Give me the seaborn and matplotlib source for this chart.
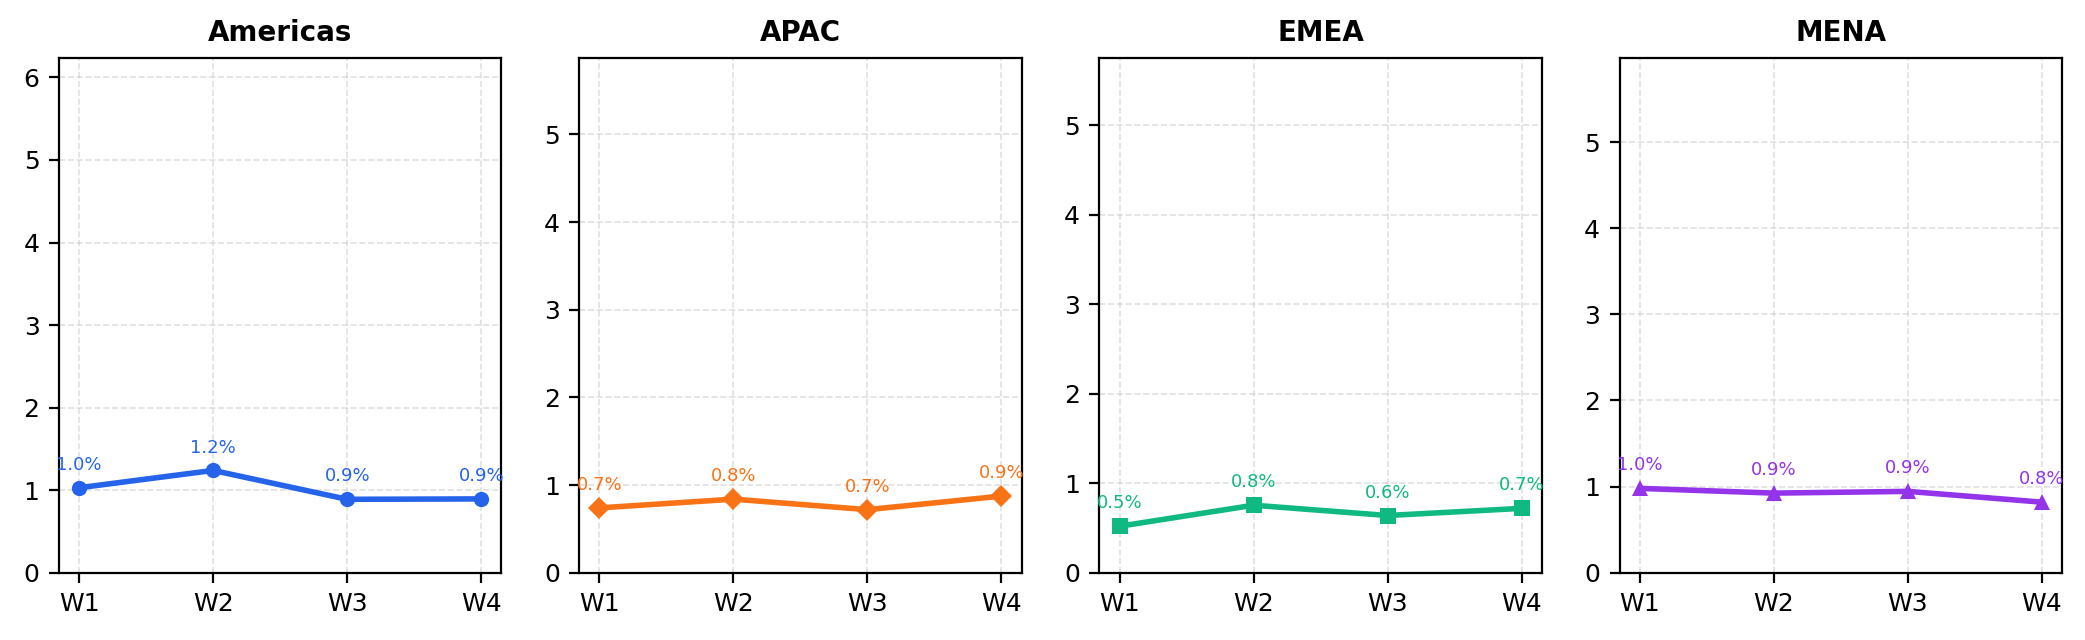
#!/usr/bin/env python3

import pandas as pd
import seaborn as sns
from matplotlib import pyplot as plt

# weekly values per region (%)
weeks = ["W1", "W2", "W3", "W4"]
regions = ["Americas", "APAC", "EMEA", "MENA"]
americas = [1.03, 1.24, 0.89, 0.895]
apac = [0.74, 0.84, 0.72, 0.875]
emea = [0.52, 0.755, 0.64, 0.72]
mena = [0.98, 0.925, 0.945, 0.82]

colors = ["#2563eb", "#f97316", "#10b981", "#9333ea"]
markers = ["o", "D", "s", "^"]


def build_frame() -> pd.DataFrame:
    """Stack the region lists into one long DataFrame."""
    series = [americas, apac, emea, mena]
    rows = []
    for region, vals in zip(regions, series):
        for w, v in zip(weeks, vals):
            rows.append({"region": region, "week": w, "value": v})
    return pd.DataFrame(rows)


def plot_regions(df: pd.DataFrame, fig_location: str = "out.png"):
    sns.set_theme(style="ticks", rc={"text.color": "black",
                                     "axes.labelcolor": "black",
                                     "xtick.color": "black",
                                     "ytick.color": "black",
                                     "axes.edgecolor": "black"})
    plt.rcParams["font.family"] = ["DejaVu Sans"]
    fig, axes = plt.subplots(1, 4, figsize=(2085 / 200, 640 / 200), dpi=200)
    fig.subplots_adjust(left=0.0283, right=0.989, top=0.91, bottom=0.105,
                        wspace=0.176)

    for ax, region, color, marker in zip(axes, regions, colors, markers):
        sub = df[df["region"] == region]
        sns.lineplot(data=sub, x="week", y="value", ax=ax, color=color,
                     marker=marker, markersize=5.5, linewidth=2,
                     markeredgewidth=0)
        for w, v in zip(sub["week"], sub["value"]):
            ax.annotate("{:.1f}%".format(v), (w, v), xytext=(0, 5),
                        textcoords="offset points", ha="center",
                        va="bottom", fontsize=6.5, color=color)
        ax.set_ylim(0, sub["value"].max() + 5)
        ax.set_title(region, fontsize=10, fontweight="bold", color="black")
        ax.set_xlabel("")
        ax.set_ylabel("")
        ax.grid(True, linestyle="--", color="#cccccc", alpha=0.6,
                linewidth=0.6)
        ax.tick_params(labelsize=9, length=3.5, width=0.8, colors="black")
        for sp in ax.spines.values():
            sp.set_color("black")
            sp.set_linewidth(0.8)

    plt.savefig(fig_location)


if __name__ == "__main__":
    data = build_frame()
    plot_regions(data)
